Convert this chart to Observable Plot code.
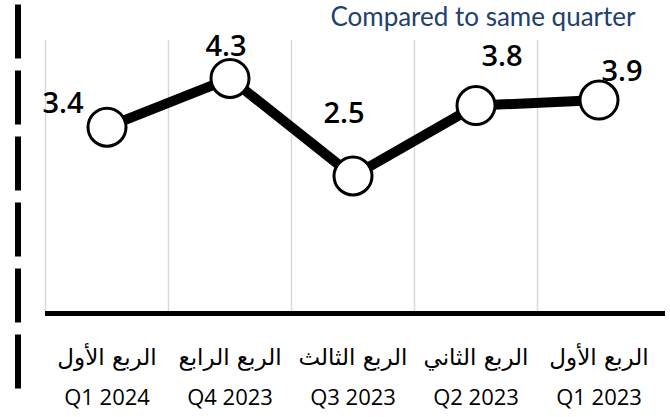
<!DOCTYPE html>
<html>
<head>
<meta charset="utf-8">
<script src="https://cdn.jsdelivr.net/npm/d3@7"></script>
<script src="https://cdn.jsdelivr.net/npm/@observablehq/plot@0.6"></script>
<style>
  html, body { margin: 0; padding: 0; background: #fff; }
  #chart { width: 670px; height: 417px; overflow: hidden; }
</style>
</head>
<body>
<div id="chart"></div>
<script>
// Data
const quarters = ["Q1 2024", "Q4 2023", "Q3 2023", "Q2 2023", "Q1 2023"];
const arabicLabels = ["الربع الأول", "الربع الرابع", "الربع الثالث", "الربع الثاني", "الربع الأول"];
const values = [3.4, 4.3, 2.5, 3.8, 3.9];
const titleText = "Compared to same quarter";

const data = quarters.map((q, i) => ({q, ar: arabicLabels[i], v: values[i]}));

// Layout / style
const W = 670, H = 417, ML = 45, MR = 10, MT = 40, MB = 106;
const band = (W - ML - MR) / quarters.length;
const labelOffsets = [[-44, -24], [-4, -32], [-9, -62], [26, -49], [23, -28]];

const labelMarks = labelOffsets.map(([dx, dy], k) =>
  Plot.text(data, {
    filter: (d, i) => i === k,
    x: "q", y: "v", text: d => d.v.toFixed(1),
    dx, dy, fill: "#000", fontSize: 29, fontWeight: 600,
    fontFamily: "Open Sans", lineAnchor: "middle"
  })
);

const chart = Plot.plot({
  width: W, height: H,
  marginLeft: ML, marginRight: MR, marginTop: MT, marginBottom: MB,
  x: {type: "band", domain: quarters, padding: 0, axis: null},
  y: {domain: [0, 5], axis: null},
  style: {fontFamily: "Open Sans", background: "#fff", overflow: "visible"},
  marks: [
    Plot.frame({anchor: "left", dx: -27.5, insetTop: -33, insetBottom: -77,
      stroke: "#000", strokeWidth: 6, strokeDasharray: "48 18"}),
    Plot.ruleX(data, {x: "q", dx: -band / 2, y1: 0, y2: 5, stroke: "#d9d9d9", strokeWidth: 1.5}),
    Plot.ruleY([0], {stroke: "#000", strokeWidth: 5, dy: 2, insetRight: -5}),
    Plot.line(data, {x: "q", y: "v", stroke: "#000", strokeWidth: 10}),
    Plot.dot(data, {x: "q", y: "v", r: 19, fill: "#fff", stroke: "#000", strokeWidth: 3}),
    ...labelMarks,
    Plot.text(data, {x: "q", text: "ar", frameAnchor: "bottom", dy: 46, lineAnchor: "middle",
      fontSize: 23, fill: "#000", fontFamily: "DejaVu Sans, Noto Sans, sans-serif"}),
    Plot.text(data, {x: "q", text: "q", frameAnchor: "bottom", dy: 86, lineAnchor: "middle",
      fontSize: 22, fill: "#000", fontFamily: "Open Sans"}),
    Plot.text([titleText], {frameAnchor: "top-right", dx: -25, dy: -23, textAnchor: "end",
      lineAnchor: "middle", fontSize: 26, fill: "#22406e", fontFamily: "Lato"})
  ]
});
document.getElementById("chart").appendChild(chart);
</script>
</body>
</html>
